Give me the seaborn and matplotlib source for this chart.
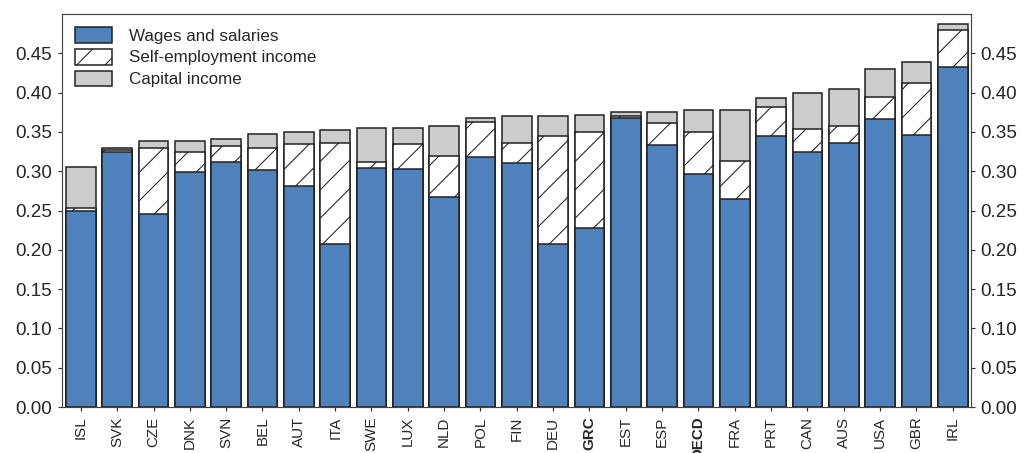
import numpy as np
import matplotlib
matplotlib.use('Agg')
import matplotlib.pyplot as plt
import seaborn as sns

countries = ['ISL', 'SVK', 'CZE', 'DNK', 'SVN', 'BEL', 'AUT', 'ITA', 'SWE', 'LUX',
             'NLD', 'POL', 'FIN', 'DEU', 'GRC', 'EST', 'ESP', 'OECD', 'FRA', 'PRT',
             'CAN', 'AUS', 'USA', 'GBR', 'IRL']
wages = [0.250, 0.325, 0.245, 0.299, 0.312, 0.301, 0.281, 0.207, 0.304, 0.303,
         0.267, 0.318, 0.310, 0.208, 0.228, 0.368, 0.333, 0.297, 0.265, 0.345,
         0.325, 0.336, 0.367, 0.346, 0.433]
self_emp = [0.003, 0.002, 0.084, 0.025, 0.020, 0.028, 0.054, 0.129, 0.008, 0.032,
            0.052, 0.045, 0.026, 0.137, 0.122, 0.002, 0.029, 0.053, 0.048, 0.037,
            0.029, 0.022, 0.027, 0.066, 0.047]
capital = [0.052, 0.002, 0.009, 0.015, 0.009, 0.018, 0.015, 0.016, 0.043, 0.020,
           0.038, 0.005, 0.034, 0.025, 0.021, 0.006, 0.014, 0.028, 0.065, 0.011,
           0.046, 0.046, 0.036, 0.027, 0.007]
bold_labels = ['GRC', 'OECD']
yticks = [0.00, 0.05, 0.10, 0.15, 0.20, 0.25, 0.30, 0.35, 0.40, 0.45]

sns.set_style('ticks')
plt.rcParams['font.family'] = ['Liberation Sans', 'DejaVu Sans']
plt.rcParams['hatch.linewidth'] = 0.45
plt.rcParams['hatch.color'] = '#222222'

DPI = 170
fig = plt.figure(figsize=(1024 / DPI, 453 / DPI), dpi=DPI)
ax = fig.add_axes([0.0605, 0.1015, 0.8877, 0.8675])

w = np.array(wages)
s = np.array(self_emp)
c = np.array(capital)

bar_kw = dict(width=0.82, edgecolor='#222222', linewidth=0.65, saturation=1, ax=ax)
# stacked by overdrawing cumulative totals
sns.barplot(x=countries, y=w + s + c, color='#CCCCCC', label='Capital income', **bar_kw)
sns.barplot(x=countries, y=w + s, color='white', hatch='//', label='Self-employment income', **bar_kw)
sns.barplot(x=countries, y=w, color='#4F81BD', label='Wages and salaries', **bar_kw)

ax.set_xlim(-0.52, 24.5)
ax.set_ylim(0, 0.5)
ax.set_yticks(yticks)
ax.set_yticklabels([f'{v:.2f}' for v in yticks])
ax.tick_params(axis='y', labelsize=8, length=1.6, width=0.5, pad=2.5,
               right=True, labelright=True, color='#333333')
ax.tick_params(axis='x', labelsize=6.4, length=1.6, width=0.5, pad=2.5,
               rotation=90, color='#333333')
for lbl in ax.get_xticklabels():
    if lbl.get_text() in bold_labels:
        lbl.set_fontweight('bold')
ax.set_xlabel('')
ax.set_ylabel('')
for sp in ax.spines.values():
    sp.set_visible(True)
    sp.set_linewidth(0.5)
    sp.set_color('#444444')

handles, labels = ax.get_legend_handles_labels()
order = [2, 1, 0]
ax.legend([handles[i] for i in order], [labels[i] for i in order],
          loc='upper left', bbox_to_anchor=(0.0143, 0.967), frameon=False,
          fontsize=7.2, handlelength=2.2, handleheight=1.05, labelspacing=0.3,
          handletextpad=1.0, borderpad=0, borderaxespad=0)

fig.savefig('out.png', dpi=DPI)
